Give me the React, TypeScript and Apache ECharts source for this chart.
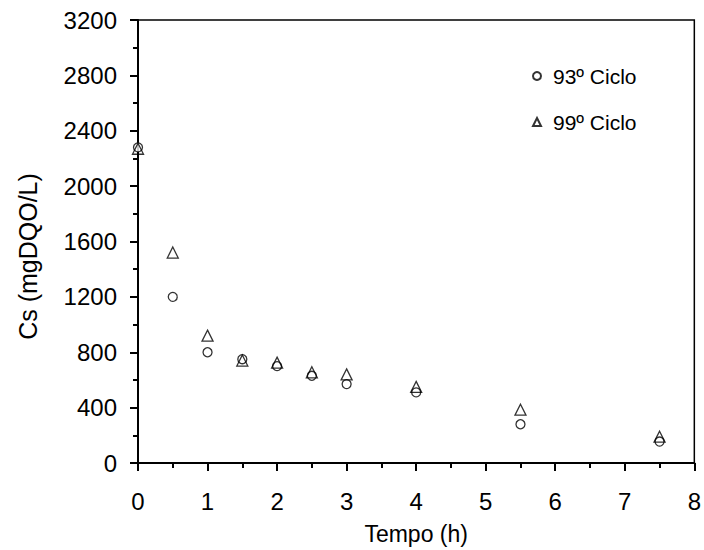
import React, { useEffect, useRef } from "react";
import * as echarts from "echarts";

const times = [0, 0.5, 1, 1.5, 2, 2.5, 3, 4, 5.5, 7.5];
const ciclo93 = [2280, 1200, 800, 750, 700, 630, 570, 510, 280, 155];
const ciclo99 = [2270, 1520, 920, 740, 725, 655, 640, 550, 385, 190];
const seriesNames = ["93º Ciclo", "99º Ciclo"];

const FONT = "'Liberation Sans', Arial, sans-serif";

export default function App() {
  const ref = useRef<HTMLDivElement>(null);
  useEffect(() => {
    if (!ref.current) return;
    const chart = echarts.init(ref.current, null, { renderer: "svg" });
    const mk = (vals: number[]) => times.map((t, i) => [t, vals[i]]);
    chart.setOption({
      animation: false,
      backgroundColor: "#fff",
      textStyle: { fontFamily: FONT },
      grid: {
        left: 138,
        right: 9,
        top: 20,
        bottom: 87,
        show: true,
        borderColor: "#000",
        borderWidth: 1.5,
        backgroundColor: "transparent",
      },
      legend: {
        orient: "vertical",
        left: 532,
        top: 65,
        padding: 0,
        itemWidth: 8,
        itemHeight: 8,
        itemGap: 24,
        textStyle: {
          fontSize: 21,
          lineHeight: 22,
          color: "#000",
          fontFamily: FONT,
          padding: [0, 0, 0, 7],
        },
        data: seriesNames,
      },
      xAxis: {
        type: "value",
        min: 0,
        max: 8,
        interval: 1,
        name: "Tempo (h)",
        nameLocation: "middle",
        nameGap: 59,
        nameTextStyle: { fontSize: 23, color: "#000", fontFamily: FONT },
        axisLine: { show: true, onZero: false, lineStyle: { color: "#000", width: 2 } },
        axisTick: { show: true, inside: false, length: 8, lineStyle: { color: "#000", width: 2 } },
        minorTick: { show: true, splitNumber: 2, length: 5, lineStyle: { color: "#000", width: 2 } },
        axisLabel: {
          fontSize: 24,
          color: "#000",
          margin: 26,
          fontFamily: FONT,
          showMaxLabel: true,
          showMinLabel: true,
          formatter: (v: number) => String(v),
        },
        splitLine: { show: false },
      },
      yAxis: {
        type: "value",
        min: 0,
        max: 3200,
        interval: 400,
        name: "Cs (mgDQO/L)",
        nameLocation: "middle",
        nameGap: 98,
        nameTextStyle: { fontSize: 25, color: "#000", fontFamily: FONT, padding: [0, 30, 0, 0] },
        axisLine: { show: true, onZero: false, lineStyle: { color: "#000", width: 2 } },
        axisTick: { show: true, inside: false, length: 8, lineStyle: { color: "#000", width: 2 } },
        minorTick: { show: true, splitNumber: 2, length: 5, lineStyle: { color: "#000", width: 2 } },
        axisLabel: {
          fontSize: 24,
          color: "#000",
          margin: 21,
          fontFamily: FONT,
          formatter: (v: number) => String(v),
        },
        splitLine: { show: false },
      },
      series: [
        {
          name: seriesNames[0],
          type: "scatter",
          symbol: "circle",
          symbolSize: 9,
          data: mk(ciclo93),
          itemStyle: { color: "#fff", borderColor: "#000", borderWidth: 1.3 },
          z: 3,
        },
        {
          name: seriesNames[1],
          type: "scatter",
          symbol: "triangle",
          symbolSize: 11,
          data: mk(ciclo99),
          itemStyle: { color: "rgba(255,255,255,0)", borderColor: "#000", borderWidth: 1.3 },
          z: 4,
        },
      ],
    });
    return () => chart.dispose();
  }, []);
  return (
    <div
      ref={ref}
      style={{ position: "absolute", left: 0, top: 0, width: 704, height: 550 }}
    />
  );
}
